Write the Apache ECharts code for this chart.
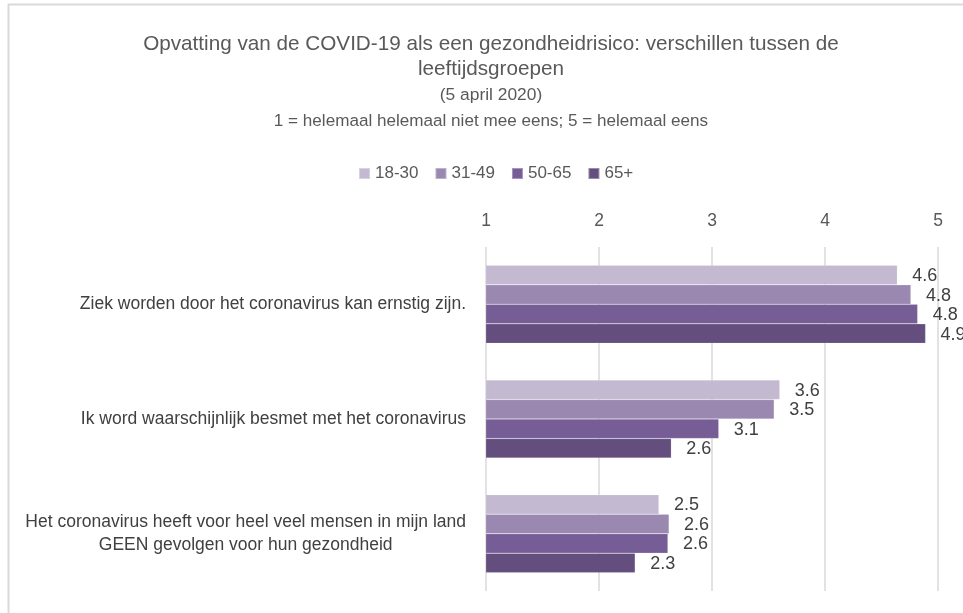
<!DOCTYPE html>
<html>
<head>
<meta charset="utf-8">
<script src="https://cdn.jsdelivr.net/npm/echarts@6/dist/echarts.min.js"></script>
<style>
  html, body { margin: 0; padding: 0; background: #fff; }
  #chart { width: 963px; height: 613px; }
</style>
</head>
<body>
<div id="chart"></div>
<script>
const categories = [
  'Ziek worden door het coronavirus kan ernstig zijn.',
  'Ik word waarschijnlijk besmet met het coronavirus',
  'Het coronavirus heeft voor heel veel mensen in mijn land\nGEEN gevolgen voor hun gezondheid'
]
const groups = ['18-30', '31-49', '50-65', '65+']
const values1830 = [4.64, 3.60, 2.53]
const values3149 = [4.76, 3.55, 2.62]
const values5065 = [4.82, 3.06, 2.61]
const values65   = [4.89, 2.64, 2.32]
const xTicks = [1, 2, 3, 4, 5]

const colors = ['#c3b9d1', '#9b88b1', '#775d96', '#634e7e']
const font = '"Liberation Sans", Arial, sans-serif'

const chart = echarts.init(document.getElementById('chart'))

const series = [values1830, values3149, values5065, values65].map((vals, i) => ({
  name: groups[i],
  type: 'bar',
  barWidth: 19.5,
  barGap: '0%',
  data: vals,
  itemStyle: { color: colors[i], borderColor: 'rgba(255,255,255,0.35)', borderWidth: 0.5 },
  label: {
    show: true,
    position: 'right',
    distance: 15,
    fontFamily: font,
    fontSize: 18,
    color: '#404040',
    offset: [0, 1],
    formatter: p => p.value.toFixed(1)
  }
}))

const opt = {
  animation: false,
  backgroundColor: '#fff',
  textStyle: { fontFamily: font },
  title: {
    left: 486,
    top: 27,
    textAlign: 'center',
    text: '{a|Opvatting van de COVID-19 als een gezondheidrisico: verschillen tussen de}\n' +
          '{a|leeftijdsgroepen}\n{b|(5 april 2020)}\n{c|1 = helemaal helemaal niet mee eens; 5 = helemaal eens}',
    textStyle: {
      fontWeight: 'normal',
      rich: {
        a: { fontFamily: font, fontSize: 20.7, lineHeight: 25, color: '#595959', fontWeight: 'normal' },
        b: { fontFamily: font, fontSize: 17.4, lineHeight: 26, color: '#595959', fontWeight: 'normal' },
        c: { fontFamily: font, fontSize: 17.1, lineHeight: 26, color: '#595959', fontWeight: 'normal' }
      }
    }
  },
  legend: {
    data: groups,
    left: 353,
    top: 160,
    itemWidth: 11,
    itemHeight: 11,
    itemGap: 16,
    icon: 'rect',
    textStyle: { fontFamily: font, fontSize: 17, color: '#595959' }
  },
  grid: { left: 486, right: 25, top: 247, bottom: 22, containLabel: false, outerBoundsMode: 'none' },
  xAxis: {
    type: 'value',
    position: 'top',
    min: xTicks[0],
    max: xTicks[xTicks.length - 1],
    interval: 1,
    axisLine: { show: false },
    axisTick: { show: false },
    axisLabel: { margin: 17, fontFamily: font, fontSize: 17.5, color: '#595959' },
    splitLine: { lineStyle: { color: '#d9d9d9', width: 1.5 } }
  },
  yAxis: {
    type: 'category',
    inverse: true,
    data: categories,
    axisLine: { show: false },
    axisTick: { show: false },
    axisLabel: {
      margin: 20,
      align: 'right',
      formatter: v => v.split('\n').map(s => '{c|' + s + '}').join('\n'),
      rich: {
        c: { align: 'center', fontFamily: font, fontSize: 17.5, lineHeight: 23.5, color: '#404040' }
      }
    }
  },
  graphic: [{
    type: 'rect',
    shape: { x: 8.5, y: 4.5, width: 1000, height: 700 },
    style: { fill: 'none', stroke: '#d9d9d9', lineWidth: 2 },
    silent: true
  }],
  series
}

chart.setOption(opt)
</script>
</body>
</html>
